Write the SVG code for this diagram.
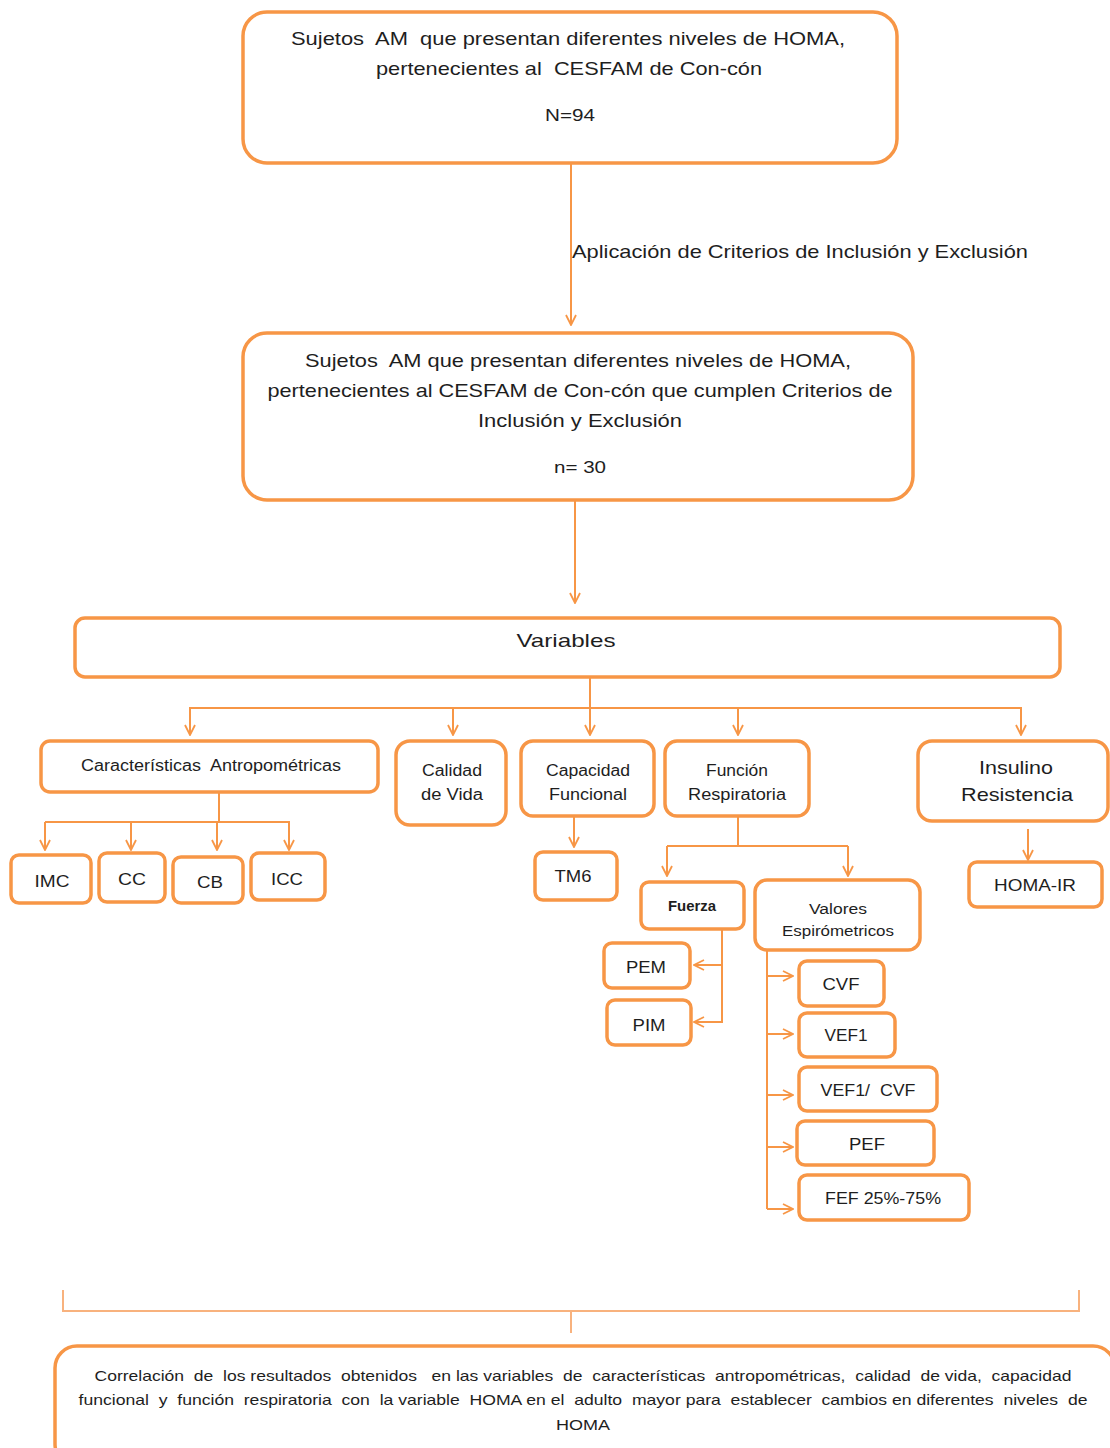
<svg xmlns="http://www.w3.org/2000/svg" width="1110" height="1448" viewBox="0 0 1110 1448">
<style>
.box{fill:#fff;stroke:#F79646;stroke-width:3.5}
.c{fill:none;stroke:#F79646;stroke-width:2}
.br{fill:none;stroke:#F8B27E;stroke-width:2}
text{font-family:"Liberation Sans",Arial,sans-serif;fill:#1e1e1e;text-anchor:middle;white-space:pre}
.t19{font-size:19px}
.t17{font-size:17px}
.t16{font-size:16px}
.t14{font-size:14px}
.t15{font-size:15px}
</style>
<defs>
<marker id="ah" viewBox="0 0 12 12" refX="11" refY="6" markerWidth="12" markerHeight="12" markerUnits="userSpaceOnUse" orient="auto">
<path d="M1,1 L11,6 L1,11" fill="none" stroke="#F79646" stroke-width="1.8"/>
</marker>
</defs>
<rect width="1110" height="1448" fill="#fff"/>

<g id="connectors">
<line class="c" x1="571" y1="163" x2="571" y2="325" marker-end="url(#ah)"/>
<text class="t19" x="800" y="258" textLength="456" lengthAdjust="spacingAndGlyphs">Aplicación de Criterios de Inclusión y Exclusión</text>
<line class="c" x1="575" y1="500" x2="575" y2="603" marker-end="url(#ah)"/>
<line class="c" x1="590" y1="677" x2="590" y2="735" marker-end="url(#ah)"/>
<polyline class="c" points="190,735 190,708 1021,708 1021,735" marker-end="url(#ah)"/>
<line class="c" x1="190" y1="708" x2="190" y2="735" marker-end="url(#ah)"/>
<line class="c" x1="453" y1="708" x2="453" y2="735" marker-end="url(#ah)"/>
<line class="c" x1="738" y1="708" x2="738" y2="735" marker-end="url(#ah)"/>
<line class="c" x1="219" y1="792" x2="219" y2="822"/>
<line class="c" x1="45" y1="822" x2="290" y2="822"/>
<line class="c" x1="45" y1="822" x2="45" y2="850" marker-end="url(#ah)"/>
<line class="c" x1="131" y1="822" x2="131" y2="850" marker-end="url(#ah)"/>
<line class="c" x1="217" y1="822" x2="217" y2="850" marker-end="url(#ah)"/>
<line class="c" x1="289" y1="822" x2="289" y2="850" marker-end="url(#ah)"/>
<line class="c" x1="574" y1="816" x2="574" y2="847" marker-end="url(#ah)"/>
<line class="c" x1="738" y1="816" x2="738" y2="846"/>
<line class="c" x1="667" y1="846" x2="848" y2="846"/>
<line class="c" x1="667" y1="846" x2="667" y2="876" marker-end="url(#ah)"/>
<line class="c" x1="848" y1="846" x2="848" y2="876" marker-end="url(#ah)"/>
<line class="c" x1="1028" y1="829" x2="1028" y2="860" marker-end="url(#ah)"/>
<polyline class="c" points="722,929 722,1022 694,1022" marker-end="url(#ah)"/>
<line class="c" x1="722" y1="965" x2="694" y2="965" marker-end="url(#ah)"/>
<line class="c" x1="767" y1="950" x2="767" y2="1209"/>
<line class="c" x1="767" y1="976" x2="793" y2="976" marker-end="url(#ah)"/>
<line class="c" x1="767" y1="1034" x2="793" y2="1034" marker-end="url(#ah)"/>
<line class="c" x1="767" y1="1095" x2="793" y2="1095" marker-end="url(#ah)"/>
<line class="c" x1="767" y1="1147" x2="793" y2="1147" marker-end="url(#ah)"/>
<line class="c" x1="767" y1="1209" x2="793" y2="1209" marker-end="url(#ah)"/>
<polyline class="br" points="63,1290 63,1311 1079,1311 1079,1290"/>
<line class="br" x1="571" y1="1311" x2="571" y2="1333"/>
</g>

<g id="n-top">
<rect class="box" x="243" y="12" width="654" height="151" rx="24"/>
<text class="t19" x="568" y="45" textLength="554" lengthAdjust="spacingAndGlyphs">Sujetos  AM  que presentan diferentes niveles de HOMA,</text>
<text class="t19" x="569" y="75" textLength="386" lengthAdjust="spacingAndGlyphs">pertenecientes al  CESFAM de Con-cón</text>
<text class="t17" x="570" y="121" textLength="50" lengthAdjust="spacingAndGlyphs">N=94</text>
</g>

<g id="n-mid">
<rect class="box" x="243" y="333" width="670" height="167" rx="24"/>
<text class="t19" x="578" y="367" textLength="546" lengthAdjust="spacingAndGlyphs">Sujetos  AM que presentan diferentes niveles de HOMA,</text>
<text class="t19" x="580" y="397" textLength="625" lengthAdjust="spacingAndGlyphs">pertenecientes al CESFAM de Con-cón que cumplen Criterios de</text>
<text class="t19" x="580" y="427" textLength="204" lengthAdjust="spacingAndGlyphs">Inclusión y Exclusión</text>
<text class="t17" x="580" y="473" textLength="52" lengthAdjust="spacingAndGlyphs">n= 30</text>
</g>

<g id="n-variables">
<rect class="box" x="75" y="618" width="985" height="59" rx="10"/>
<text class="t19" x="566" y="647" textLength="99" lengthAdjust="spacingAndGlyphs">Variables</text>
</g>

<g id="n-antro">
<rect class="box" x="41" y="741" width="337" height="51" rx="9"/>
<text class="t16" x="211" y="771" textLength="260" lengthAdjust="spacingAndGlyphs">Características  Antropométricas</text>
</g>
<g id="n-calidad">
<rect class="box" x="396" y="741" width="110" height="84" rx="14"/>
<text class="t16" x="452" y="776" textLength="60" lengthAdjust="spacingAndGlyphs">Calidad</text>
<text class="t16" x="452" y="800" textLength="62" lengthAdjust="spacingAndGlyphs">de Vida</text>
</g>
<g id="n-capacidad">
<rect class="box" x="521" y="741" width="133" height="75" rx="12"/>
<text class="t16" x="588" y="776" textLength="84" lengthAdjust="spacingAndGlyphs">Capacidad</text>
<text class="t16" x="588" y="800" textLength="78" lengthAdjust="spacingAndGlyphs">Funcional</text>
</g>
<g id="n-funcion">
<rect class="box" x="665" y="741" width="144" height="75" rx="12"/>
<text class="t16" x="737" y="776" textLength="62" lengthAdjust="spacingAndGlyphs">Función</text>
<text class="t16" x="737" y="800" textLength="98" lengthAdjust="spacingAndGlyphs">Respiratoria</text>
</g>
<g id="n-insulino">
<rect class="box" x="918" y="741" width="190" height="80" rx="14"/>
<text class="t19" x="1016" y="774" textLength="74" lengthAdjust="spacingAndGlyphs">Insulino</text>
<text class="t19" x="1017" y="801" textLength="112" lengthAdjust="spacingAndGlyphs">Resistencia</text>
</g>

<g id="n-imc">
<rect class="box" x="11" y="855" width="80" height="48" rx="8"/>
<text class="t17" x="52" y="887" textLength="35" lengthAdjust="spacingAndGlyphs">IMC</text>
</g>
<g id="n-cc">
<rect class="box" x="99" y="853" width="66" height="49" rx="8"/>
<text class="t17" x="132" y="885" textLength="28" lengthAdjust="spacingAndGlyphs">CC</text>
</g>
<g id="n-cb">
<rect class="box" x="173" y="857" width="70" height="46" rx="8"/>
<text class="t17" x="210" y="888" textLength="26" lengthAdjust="spacingAndGlyphs">CB</text>
</g>
<g id="n-icc">
<rect class="box" x="251" y="853" width="74" height="47" rx="8"/>
<text class="t17" x="287" y="885" textLength="32" lengthAdjust="spacingAndGlyphs">ICC</text>
</g>
<g id="n-tm6">
<rect class="box" x="535" y="852" width="82" height="48" rx="8"/>
<text class="t17" x="573" y="882" textLength="37" lengthAdjust="spacingAndGlyphs">TM6</text>
</g>
<g id="n-homair">
<rect class="box" x="969" y="862" width="133" height="45" rx="8"/>
<text class="t17" x="1035" y="891" textLength="82" lengthAdjust="spacingAndGlyphs">HOMA-IR</text>
</g>

<g id="n-fuerza">
<rect class="box" x="641" y="882" width="103" height="47" rx="8"/>
<text class="t14" x="692" y="911" font-weight="bold" textLength="48" lengthAdjust="spacingAndGlyphs">Fuerza</text>
</g>
<g id="n-valores">
<rect class="box" x="755" y="880" width="165" height="70" rx="12"/>
<text class="t14" x="838" y="914" textLength="58" lengthAdjust="spacingAndGlyphs">Valores</text>
<text class="t14" x="838" y="936" textLength="112" lengthAdjust="spacingAndGlyphs">Espirómetricos</text>
</g>
<g id="n-pem">
<rect class="box" x="604" y="943" width="86" height="45" rx="8"/>
<text class="t17" x="646" y="973" textLength="40" lengthAdjust="spacingAndGlyphs">PEM</text>
</g>
<g id="n-pim">
<rect class="box" x="607" y="1000" width="84" height="45" rx="8"/>
<text class="t17" x="649" y="1031" textLength="33" lengthAdjust="spacingAndGlyphs">PIM</text>
</g>
<g id="n-cvf">
<rect class="box" x="799" y="961" width="85" height="45" rx="8"/>
<text class="t17" x="841" y="990" textLength="37" lengthAdjust="spacingAndGlyphs">CVF</text>
</g>
<g id="n-vef1">
<rect class="box" x="799" y="1013" width="96" height="44" rx="8"/>
<text class="t17" x="846" y="1041" textLength="43" lengthAdjust="spacingAndGlyphs">VEF1</text>
</g>
<g id="n-vefcvf">
<rect class="box" x="799" y="1067" width="138" height="44" rx="8"/>
<text class="t17" x="868" y="1096" textLength="95" lengthAdjust="spacingAndGlyphs">VEF1/  CVF</text>
</g>
<g id="n-pef">
<rect class="box" x="797" y="1121" width="137" height="44" rx="8"/>
<text class="t17" x="867" y="1150" textLength="36" lengthAdjust="spacingAndGlyphs">PEF</text>
</g>
<g id="n-fef">
<rect class="box" x="799" y="1175" width="170" height="45" rx="8"/>
<text class="t17" x="883" y="1204" textLength="116" lengthAdjust="spacingAndGlyphs">FEF 25%-75%</text>
</g>

<g id="n-correlacion">
<rect class="box" x="55" y="1346" width="1060" height="120" rx="22"/>
<text class="t15" x="583" y="1381" textLength="977" lengthAdjust="spacingAndGlyphs">Correlación  de  los resultados  obtenidos   en las variables  de  características  antropométricas,  calidad  de vida,  capacidad</text>
<text class="t15" x="583" y="1405" textLength="1009" lengthAdjust="spacingAndGlyphs">funcional  y  función  respiratoria  con  la variable  HOMA en el  adulto  mayor para  establecer  cambios en diferentes  niveles  de</text>
<text class="t15" x="583" y="1430" textLength="54" lengthAdjust="spacingAndGlyphs">HOMA</text>
</g>
</svg>
